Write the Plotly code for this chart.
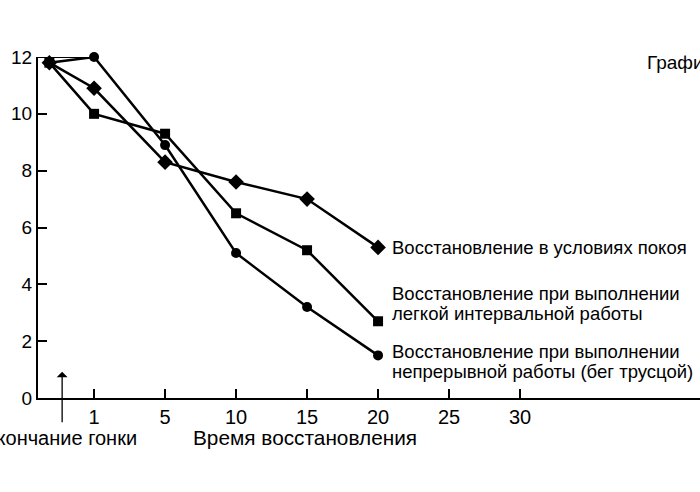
import plotly.graph_objects as go

# time after the race (min) and where each tick sits on the drawn axis
times = [0, 1, 5, 10, 15, 20]
tick_labels = ["1", "5", "10", "15", "20", "25", "30"]
tick_pos = [1, 2, 3, 4, 5, 6, 7]
time_pos = {0: 0.37, 1: 1, 5: 2, 10: 3, 15: 4, 20: 5}

rest = [11.8, 10.9, 8.3, 7.6, 7.0, 5.3]
interval = [11.8, 10.0, 9.3, 6.5, 5.2, 2.7]
jogging = [11.8, 12.0, 8.9, 5.1, 3.2, 1.5]

label_lines = [
    ["Восстановление в условиях покоя"],
    ["Восстановление при выполнении", "легкой интервальной работы"],
    ["Восстановление при выполнении", "непрерывной работы (бег трусцой)"],
]

FONT = "Liberation Sans, Arial, sans-serif"
xs = [time_pos[t] for t in times]

fig = go.Figure()
series = [
    (rest, "diamond", 12),
    (interval, "square", 10),
    (jogging, "circle", 10),
]
for vals, sym, size in series:
    fig.add_trace(
        go.Scatter(
            x=xs, y=vals, mode="lines+markers",
            line=dict(color="black", width=2.5),
            marker=dict(symbol=sym, size=size, color="black"),
            cliponaxis=False, showlegend=False,
        )
    )

# line labels next to the last points (one annotation per text line)
label_y = [[5.28], [3.68, 2.98], [1.63, 0.92]]
for lines, ys in zip(label_lines, label_y):
    for txt, yy in zip(lines, ys):
        fig.add_annotation(
            x=xs[-1] + 0.17, y=yy, text=txt, showarrow=False,
            xanchor="left", yanchor="middle", align="left",
            font=dict(family=FONT, size=18.5, color="black"),
        )

# short level line at 12 from the axis to the jogging point
fig.add_shape(
    type="line", x0=0.21, x1=xs[1], y0=jogging[1], y1=jogging[1],
    line=dict(color="black", width=2),
)

# end-of-race arrow
fig.add_annotation(
    x=0.55, y=0.92, ax=0, ay=52, text="", showarrow=True,
    arrowhead=1, arrowsize=1.4, arrowwidth=1.3, arrowcolor="black",
)
fig.add_annotation(
    xref="paper", yref="paper", x=0, xshift=101, y=-0.117,
    text="Окончание гонки", showarrow=False, xanchor="right", yanchor="middle",
    font=dict(family=FONT, size=20, color="black"),
)
fig.add_annotation(
    xref="paper", yref="paper", x=0, xshift=267, y=-0.117,
    text="Время восстановления", showarrow=False, xanchor="center", yanchor="middle",
    font=dict(family=FONT, size=20.8, color="black"),
)
fig.add_annotation(
    xref="paper", yref="paper", x=0, xshift=607, y=1.0, yshift=-5,
    text="График 1", showarrow=False, xanchor="left", yanchor="middle",
    font=dict(family=FONT, size=19, color="black"),
)

fig.update_xaxes(
    range=[0.21, 9.535], tickvals=tick_pos, ticktext=tick_labels,
    ticks="inside", ticklen=9, tickwidth=1.5, tickcolor="black",
    showline=True, linecolor="black", linewidth=2,
    showgrid=False, zeroline=False, automargin=False,
    tickfont=dict(family=FONT, size=20, color="black"),
)
fig.update_yaxes(
    range=[0, 12], tickvals=[0, 2, 4, 6, 8, 10, 12],
    ticks="inside", ticklen=9, tickwidth=1.5, tickcolor="black",
    showline=True, linecolor="black", linewidth=2,
    showgrid=False, zeroline=False, automargin=False,
    tickfont=dict(family=FONT, size=19, color="black"),
)
fig.update_layout(
    width=700, height=492,
    margin=dict(l=38, r=0, t=57, b=94),
    plot_bgcolor="white", paper_bgcolor="white",
)

# drop the browser's default body margin so the figure sits at the page corner
fig.write_html(
    "out.html",
    config={"displayModeBar": False},
    post_script="document.body.style.margin = '0';",
)
